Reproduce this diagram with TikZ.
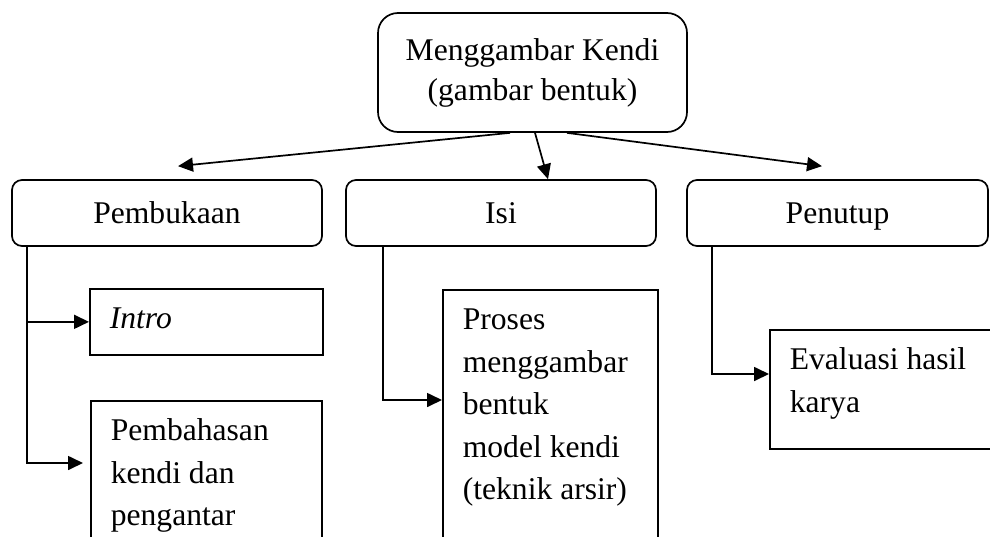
\documentclass[tikz,border=0pt]{standalone}
\usepackage{fontspec}
\setmainfont{Liberation Serif}
\usetikzlibrary{arrows.meta, positioning, calc}
\tikzset{
    topbox/.style={draw, line width=1.7pt, rounded corners=20pt, align=center, minimum width=309pt, minimum height=119pt, font=\fontsize{31.6}{40}\selectfont},
    partbox/.style={draw, line width=1.7pt, rounded corners=10pt, minimum width=310pt, minimum height=66pt, text height=25pt, text depth=5pt},
    stepbox/.style={draw, line width=1.7pt, anchor=north west, align=flush left, inner xsep=20pt, inner ysep=0pt, text height=40pt},
    arrow/.style={-{Triangle[length=15pt, width=14pt]}, line width=1.7pt}
}

\begin{document}
\begin{tikzpicture}[x=1pt, y=-1pt, font=\fontsize{31.6}{42.5}\selectfont]
    \useasboundingbox (0,0) rectangle (990,536);
    \clip (0,0) rectangle (990,536);

    % Define nodes
    \node [topbox] (kendi) at (532.5,72.5) {Menggambar Kendi\\(gambar bentuk)};
    \node [partbox] (buka) at (167,213) {Pembukaan};
    \node [partbox] (isi) at (501,213) {Isi};
    \node [partbox, minimum width=301pt] (tutup) at (837.5,213) {Penutup};

    \node [stepbox, text width=193pt, text depth=26pt] (intro) at (89,288) {\textit{Intro}};
    \node [stepbox, text width=191pt, text depth=200pt] (bahas) at (90,400) {Pembahasan\\kendi dan\\pengantar};
    \node [stepbox, text width=175pt, text depth=300pt] (proses) at (442,289) {Proses\\menggambar\\bentuk\\model kendi\\(teknik arsir)};
    \node [stepbox, text width=201pt, text depth=79pt] (evalu) at (769,329) {Evaluasi hasil\\karya};
    \coordinate (bahasin) at ([xshift=-7pt, yshift=-63pt]bahas.north west);

    % Connectors
    \draw [arrow] ([xshift=-22.5pt]kendi.south) -- ([xshift=11pt, yshift=13pt]buka.north);
    \draw [arrow] ([xshift=2.5pt]kendi.south) -- ([xshift=47pt]isi.north);
    \draw [arrow] ([xshift=34.5pt]kendi.south) -- ([xshift=-15.5pt, yshift=13pt]tutup.north);

    \draw [arrow] ([xshift=16pt]buka.south west) |- (intro.west);
    \draw [arrow] ([xshift=16pt]buka.south west) |- (bahasin);
    \draw [arrow] ([xshift=38pt]isi.south west) |- ([yshift=-111pt]proses.north west);
    \draw [arrow] ([xshift=26pt]tutup.south west) |- ([yshift=-45pt]evalu.north west);
\end{tikzpicture}
\end{document}
